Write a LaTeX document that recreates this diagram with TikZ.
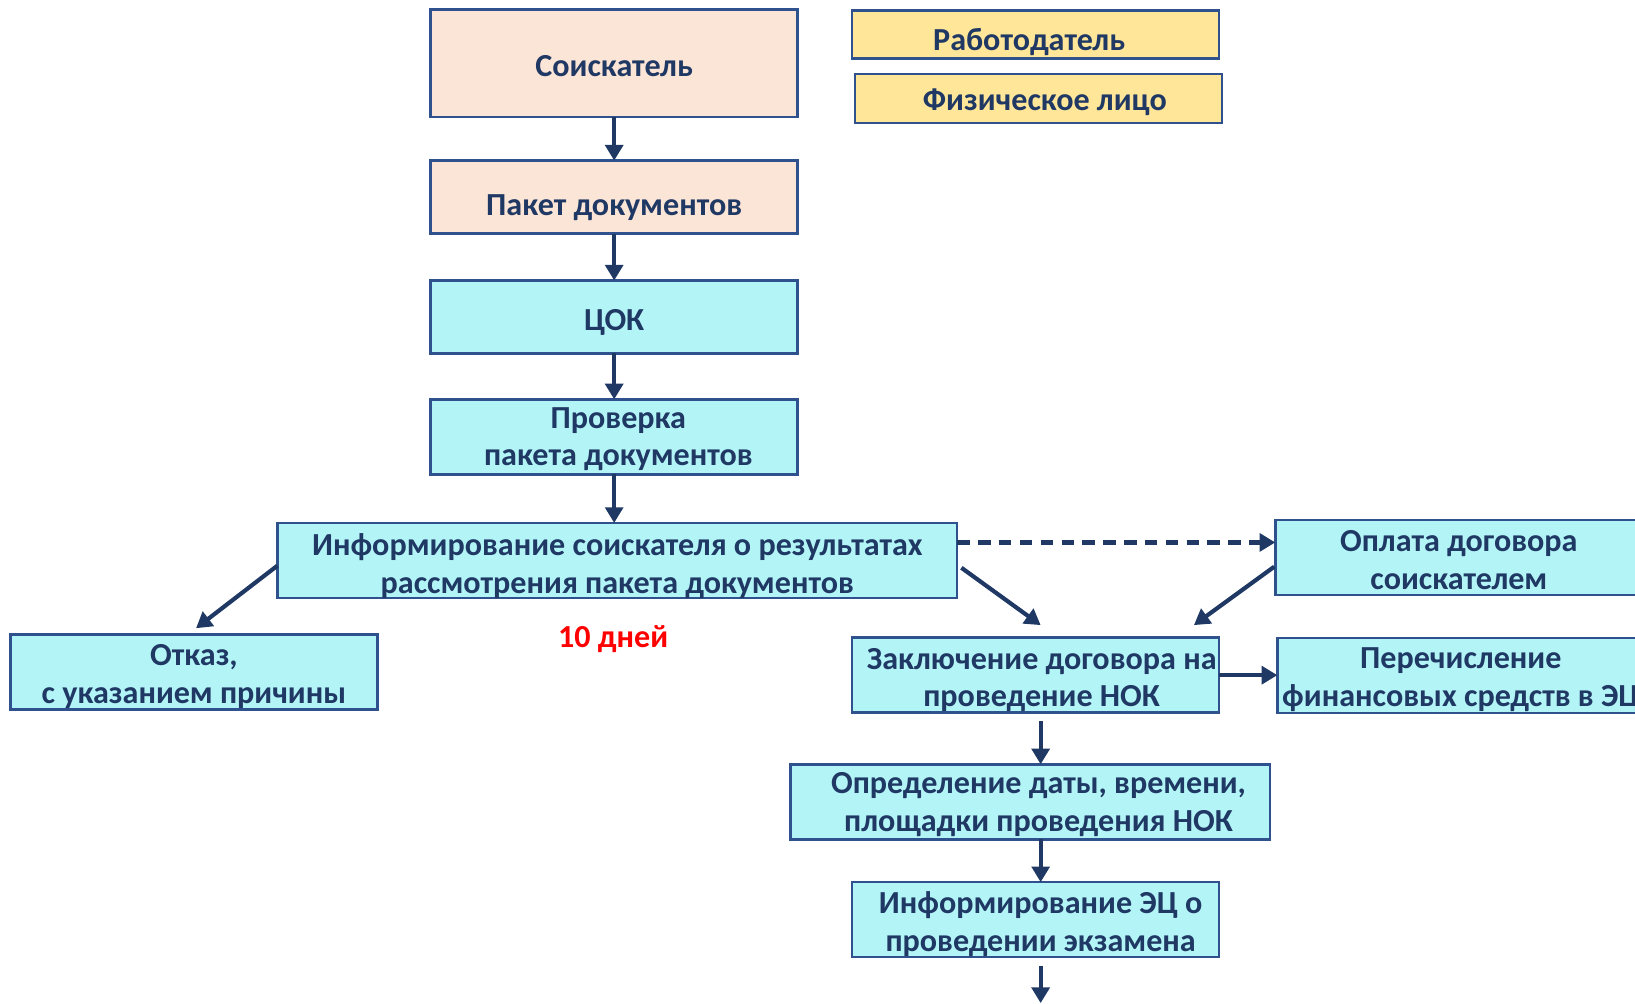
\documentclass[tikz,border=0pt]{standalone}
\usepackage{fontspec}
\setmainfont{Carlito}
\usetikzlibrary{arrows.meta,calc}
\definecolor{navy}{HTML}{1F3864}
\definecolor{bord}{HTML}{2F528F}
\definecolor{cyanf}{HTML}{B3F5F7}
\definecolor{peach}{HTML}{FBE5D6}
\definecolor{yel}{HTML}{FFE699}
\definecolor{redt}{HTML}{FF0000}
\newcommand\tx[2][-2.5pt]{\raisebox{#1}[\height][\depth]{\begin{tabular}{@{}c@{}}#2\end{tabular}}}
\begin{document}
\begin{tikzpicture}[x=0.5pt,y=-0.5pt,
 box/.style={draw=bord,line width=1.2pt,inner sep=0pt,outer sep=0pt,text=navy,
   font=\fontsize{15.4}{18}\selectfont\bfseries,align=center,minimum width=176pt,minimum height=35pt},
 cbox/.style={box,fill=cyanf},
 pbox/.style={box,fill=peach},
 ybox/.style={box,fill=yel,minimum height=23pt},
 arr/.style={draw=navy,line width=2pt,-{Triangle[length=7.5pt,width=8.5pt]}},
 darr/.style={arr,dash pattern=on 6pt off 4pt},
]
\useasboundingbox (0,0) rectangle (1568,962);
\clip (0,0) rectangle (1568,962);

\node[pbox,minimum height=51.5pt] (sois) at (589,60.5) {\tx[-3pt]{Соискатель}};
\node[pbox] (paket) at (589,189) {\tx[-5pt]{Пакет документов}};
\node[cbox] (cok) at (589,304) {\tx[-3pt]{ЦОК}};
\node[cbox] (prov) at (589,419) {\tx[-1.3pt]{\hspace*{4pt}Проверка\\\hspace*{4pt}пакета документов}};
\node[cbox,minimum width=326pt,minimum height=34.5pt] (info) at (592,537.5)
  {\tx[-3pt]{Информирование соискателя о результатах\\рассмотрения пакета документов}};
\node[cbox,minimum height=35.5pt] (otkaz) at (186,644.5) {\tx{Отказ,\\с указанием причины}};
\node[text=redt,font=\fontsize{15.4}{18}\selectfont\bfseries,inner sep=0pt] (days) at (588,612) {\tx[-1pt]{10 дней}};
\node[cbox,minimum height=34.5pt] (zakl) at (993,647.5) {\tx{\hspace*{6pt}Заключение договора на\\\hspace*{6pt}проведение НОК}};
\node[cbox,minimum height=34.5pt] (oplata) at (1399,534.5) {\tx[-2.7pt]{Оплата договора\\соискателем}};
\node[cbox] (perech) at (1401,648) {\tx[-2pt]{Перечисление\\финансовых средств в ЭЦ}};
\node[cbox,minimum width=230pt] (opred) at (988,769) {\tx[-1.5pt]{\hspace*{8pt}Определение даты, времени,\\\hspace*{8pt}площадки проведения НОК}};
\node[cbox] (infoec) at (993,882) {\tx{\hspace*{5pt}Информирование ЭЦ о\\\hspace*{5pt}проведении экзамена}};
\node[ybox] (rabot) at (993,33) {\tx[-4pt]{\hspace*{-6pt}Работодатель}};
\node[ybox,minimum height=23.5pt] (fiz) at (996,94.5) {\tx[-2pt]{\hspace*{6pt}Физическое лицо}};

\draw[arr] (sois.south) -- (paket.north);
\draw[arr] (paket.south) -- (cok.north);
\draw[arr] (cok.south) -- (prov.north);
\draw[arr] (prov.south) -- (prov.south |- info.north);
\draw[arr] ($(info.west)+(0,5)$) -- ($(otkaz.north)+(2,-6)$);
\draw[arr] ($(info.east)+(4,7)$) -- ($(zakl.north)+(5,-12)$);
\coordinate (d1) at ($(info.north east)!0.26!(info.south east)$);
\draw[darr] (d1) -- (d1 -| oplata.west);
\draw[arr] ($(oplata.west)+(-1,9)$) -- ($(zakl.north east)+(-24,-12)$);
\draw[arr] (zakl.east) -- (zakl.east -| perech.west);
\coordinate (z1) at ($(zakl.south)+(5,8)$);
\draw[arr] (z1) -- (z1 |- opred.north);
\draw[arr] (opred.south -| z1) -- (infoec.north -| z1);
\coordinate (z2) at ($(infoec.south -| z1)+(0,8)$);
\coordinate (zend) at (998,962);
\draw[arr] (z2) -- (zend);
\end{tikzpicture}
\end{document}
